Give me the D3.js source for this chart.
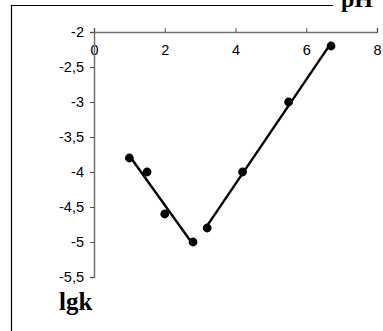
<!DOCTYPE html>
<html>
<head>
<meta charset="utf-8">
<script src="https://cdn.jsdelivr.net/npm/d3@7"></script>
<style>
  html, body { margin: 0; padding: 0; background: #fff; overflow: hidden; }
  svg { display: block; }
</style>
</head>
<body>
<script>
// pH values and their lgk, split into the acid branch and the basic branch
const acidPH = [1.0, 1.5, 2.0, 2.8];
const acidLgk = [-3.8, -4.0, -4.6, -5.0];
const basePH = [3.2, 4.2, 5.5, 6.7];
const baseLgk = [-4.8, -4.0, -3.0, -2.2];

const xTicks = [0, 2, 4, 6, 8];
const yTicks = [-2, -2.5, -3, -3.5, -4, -4.5, -5, -5.5];

const W = 383, H = 331;
const svg = d3.select("body").append("svg").attr("width", W).attr("height", H);

const x = d3.scaleLinear().domain([0, 8]).range([94, 377]);
const y = d3.scaleLinear().domain([-2, -5.5]).range([32, 277]);

const sans = "Arial, 'Liberation Sans', sans-serif";
const serif = "'Liberation Serif', 'Times New Roman', serif";

// frame: top rule and left edge
svg.append("line").attr("x1", 11.5).attr("x2", 333).attr("y1", 5.5).attr("y2", 5.5)
  .attr("stroke", "#000").attr("stroke-width", 1.2);
svg.append("line").attr("x1", 11.5).attr("x2", 11.5).attr("y1", 5).attr("y2", H)
  .attr("stroke", "#000").attr("stroke-width", 1.2);

// x axis along the top, ticks pointing up, labels underneath
const xAxis = d3.axisTop(x).tickValues(xTicks).tickSize(4).tickFormat(d3.format("d"));
const gx = svg.append("g").attr("transform", `translate(0,${y(-2)})`).call(xAxis);
gx.select(".domain").attr("stroke", "#707070").attr("stroke-width", 1.5);
gx.selectAll(".tick line").attr("stroke", "#505050").attr("stroke-width", 1);
gx.selectAll(".tick text").attr("y", 17.5).attr("dy", "0.35em")
  .attr("font-family", sans).attr("font-size", 14.5).attr("fill", "#000");

// y axis
const fmtComma = d => String(d).replace(".", ",");
const yAxis = d3.axisLeft(y).tickValues(yTicks).tickSize(4).tickFormat(fmtComma);
const gy = svg.append("g").attr("transform", `translate(${x(0)},0)`).call(yAxis);
gy.select(".domain").attr("stroke", "#707070").attr("stroke-width", 1.5);
gy.selectAll(".tick line").attr("stroke", "#505050").attr("stroke-width", 1);
gy.selectAll(".tick text").attr("x", -10)
  .attr("font-family", sans).attr("font-size", 14.5).attr("fill", "#000");

// least-squares trend line drawn across each branch
function fit(xs, ys) {
  const n = xs.length;
  const mx = d3.mean(xs), my = d3.mean(ys);
  let sxy = 0, sxx = 0;
  for (let i = 0; i < n; i++) { sxy += (xs[i] - mx) * (ys[i] - my); sxx += (xs[i] - mx) ** 2; }
  const b = sxy / sxx, a = my - b * mx;
  const x0 = d3.min(xs), x1 = d3.max(xs);
  return [[x0, a + b * x0], [x1, a + b * x1]];
}
const line = d3.line().x(d => x(d[0])).y(d => y(d[1]));
[[acidPH, acidLgk], [basePH, baseLgk]].forEach(([xs, ys]) => {
  svg.append("path").attr("d", line(fit(xs, ys)))
    .attr("fill", "none").attr("stroke", "#000").attr("stroke-width", 2.4);
  svg.append("g").selectAll("circle").data(xs.map((v, i) => [v, ys[i]])).join("circle")
    .attr("cx", d => x(d[0])).attr("cy", d => y(d[1])).attr("r", 4.4).attr("fill", "#000");
});

// axis titles
svg.append("text").attr("x", 59).attr("y", 310).text("lgk")
  .attr("font-family", serif).attr("font-weight", "bold")
  .attr("font-size", 25).attr("fill", "#000");
svg.append("text").attr("x", 341).attr("y", 7).text("pH")
  .attr("font-family", serif).attr("font-weight", "bold")
  .attr("font-size", 24).attr("fill", "#000");
</script>
</body>
</html>
